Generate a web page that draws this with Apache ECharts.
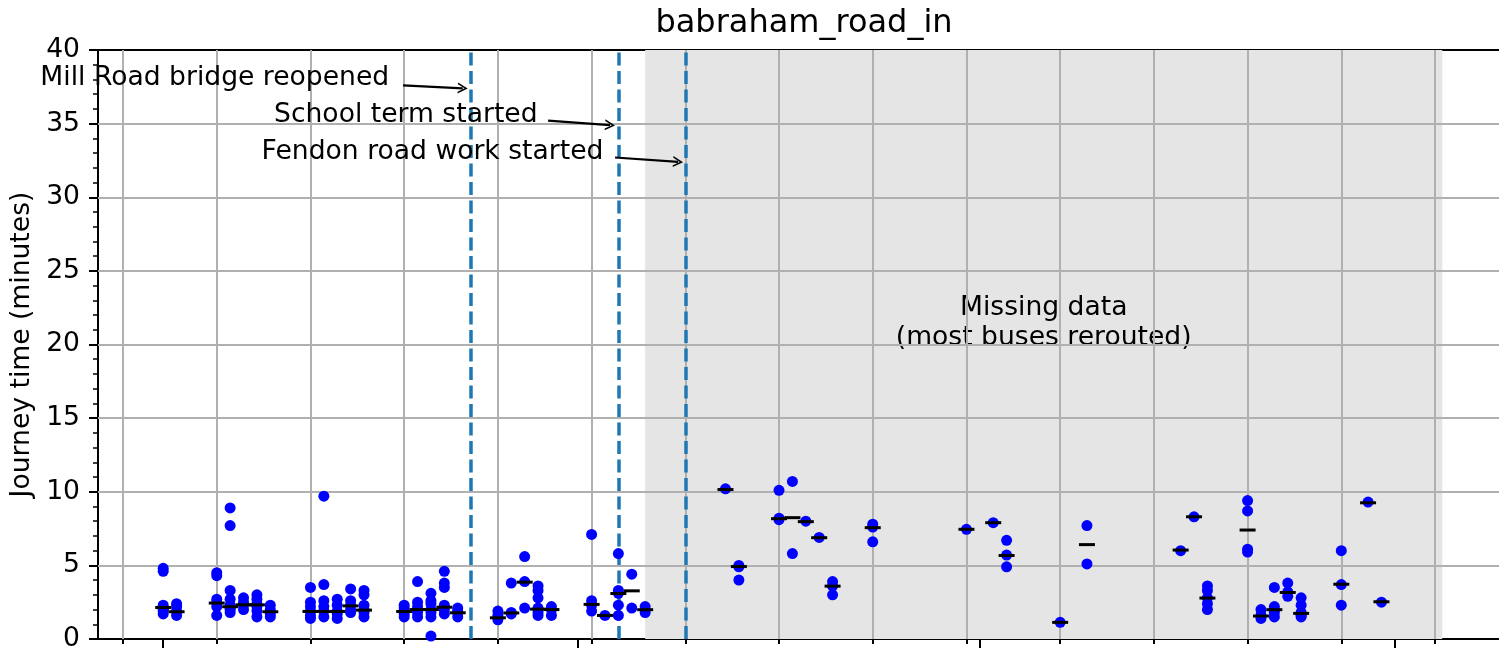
<!DOCTYPE html>
<html>
<head>
<meta charset="utf-8">
<title>babraham_road_in</title>
<script src="https://cdn.jsdelivr.net/npm/echarts@6/dist/echarts.min.js"></script>
<style>
  html, body { margin: 0; padding: 0; background: #fff; }
  #chart { width: 1499px; height: 654px; }
</style>
</head>
<body>
<div id="chart"></div>
<script>
// days with buses, the journey times seen that day (minutes) and the day's median
const days = [
  '2019-08-01', '2019-08-02', '2019-08-05', '2019-08-06', '2019-08-07', '2019-08-08', '2019-08-09',
  '2019-08-12', '2019-08-13', '2019-08-14', '2019-08-15', '2019-08-16',
  '2019-08-19', '2019-08-20', '2019-08-21', '2019-08-22', '2019-08-23',
  '2019-08-26', '2019-08-27', '2019-08-28', '2019-08-29', '2019-08-30',
  '2019-09-02', '2019-09-03', '2019-09-04', '2019-09-05', '2019-09-06',
  '2019-09-12', '2019-09-13', '2019-09-16', '2019-09-17', '2019-09-18', '2019-09-19', '2019-09-20',
  '2019-09-23', '2019-09-30', '2019-10-02', '2019-10-03', '2019-10-07', '2019-10-09',
  '2019-10-16', '2019-10-17', '2019-10-18', '2019-10-21', '2019-10-22', '2019-10-23', '2019-10-24', '2019-10-25',
  '2019-10-28', '2019-10-30', '2019-10-31'
];
const journeyTimes = [
  [4.8, 4.6, 2.3, 2.1, 2.0, 1.9, 1.7], [2.4, 2.2, 1.9, 1.6], [4.5, 4.3, 2.7, 2.5, 2.2, 1.6],
  [8.9, 7.7, 3.3, 2.7, 2.3, 2.1, 2.0, 1.8], [2.8, 2.5, 2.3, 2.0], [3.0, 2.7, 2.4, 2.2, 1.9, 1.5], [2.3, 2.0, 1.7, 1.5],
  [3.5, 2.5, 2.2, 1.9, 1.6, 1.4], [9.7, 3.7, 2.6, 2.2, 1.9, 1.5], [2.7, 2.3, 1.9, 1.7, 1.4],
  [3.4, 2.6, 2.3, 2.0, 1.8], [3.3, 3.0, 2.3, 2.0, 1.8, 1.5],
  [2.3, 2.1, 1.9, 1.7, 1.5], [3.9, 2.5, 2.2, 2.0, 1.8, 1.5], [3.1, 2.6, 2.4, 2.0, 1.8, 1.5, 0.2],
  [4.6, 3.8, 3.5, 2.3, 2.0, 1.7], [2.1, 1.9, 1.8, 1.5],
  [1.9, 1.6, 1.3], [3.8, 1.8, 1.7], [5.6, 3.9, 2.1], [3.6, 3.3, 2.8, 2.1, 2.0, 1.8, 1.6], [2.2, 2.0, 1.6],
  [7.1, 2.6, 2.3, 1.9], [1.6], [5.8, 3.3, 3.1, 2.3, 1.6], [4.4, 2.1], [2.2, 1.8],
  [10.2], [5.0, 4.9, 4.0], [10.1, 8.2, 8.1], [10.7, 5.8], [8.0], [6.9], [3.9, 3.6, 3.0],
  [7.8, 7.6, 6.6], [7.45], [7.9], [6.7, 5.7, 4.9], [1.13], [7.7, 5.1],
  [6.0], [8.3], [3.6, 3.3, 2.8, 2.4, 2.0], [9.4, 8.7, 6.1, 5.9], [2.0, 1.6, 1.4], [3.5, 2.2, 2.0, 1.8, 1.5],
  [3.8, 3.2, 2.9], [2.8, 2.3, 1.8, 1.7, 1.6, 1.5],
  [6.0, 3.7, 2.3], [9.3], [2.5]
];
const medians = [
  2.14, 1.85, 2.44, 2.19, 2.32, 2.32, 1.85,
  1.87, 1.87, 1.87, 2.25, 1.96,
  1.87, 2.0, 2.0, 2.16, 1.78,
  1.44, 1.77, 3.86, 2.03, 2.0,
  2.35, 1.6, 3.09, 3.27, 1.99,
  10.15, 4.92, 8.17, 8.24, 7.97, 6.88, 3.59,
  7.56, 7.45, 7.9, 5.67, 1.13, 6.41,
  6.04, 8.3, 2.78, 7.4, 1.56, 1.99, 3.16, 1.74,
  3.72, 9.25, 2.53
];

// weekly grid (Mondays) and month ticks
const mondays = [
  '2019-07-29', '2019-08-05', '2019-08-12', '2019-08-19', '2019-08-26', '2019-09-02', '2019-09-09',
  '2019-09-16', '2019-09-23', '2019-09-30', '2019-10-07', '2019-10-14', '2019-10-21', '2019-10-28', '2019-11-04'
];
const monthStarts = ['2019-08-01', '2019-09-01', '2019-10-01', '2019-11-01'];
const yTicks = [5, 10, 15, 20, 25, 30, 35];

const eventDates = ['2019-08-24', '2019-09-04', '2019-09-09'];
const eventNames = ['Mill Road bridge reopened', 'School term started', 'Fendon road work started'];

const missingFrom = '2019-09-06';
const missingTo = '2019-11-04 13:00';

const t = s => new Date(s.length === 10 ? s + 'T00:00' : s.replace(' ', 'T')).getTime();
const FONT = 'DejaVu Sans';
const FS = 26.6;
const xMin = t('2019-07-27 03:07');
const xMax = t('2019-11-08 18:43');

// annotation text anchors (right end of text) and arrows, in data coordinates
const noteAnchors = [['2019-08-17 22:00', 38.1], ['2019-08-29 00:00', 35.6], ['2019-09-02 22:00', 33.1]];
const arrowStarts = [['2019-08-18 22:00', 37.6], ['2019-08-29 18:00', 35.2], ['2019-09-03 18:00', 32.7]];
const arrowEnds = [['2019-08-23 09:00', 37.4], ['2019-09-03 09:00', 34.9], ['2019-09-08 11:00', 32.4]];

const chevron = 'path://M0,10 L5,0 L10,10 L8.4,10 L5,3.2 L1.6,10 Z';

const points = [];
days.forEach((d, i) => journeyTimes[i].forEach(v => points.push([t(d), v])));

const noteLabel = {
  show: true, position: 'left', distance: 0,
  fontFamily: FONT, fontSize: FS, color: '#000', opacity: 1
};

const chart = echarts.init(document.getElementById('chart'));
chart.setOption({
  animation: false,
  backgroundColor: '#fff',
  textStyle: { fontFamily: FONT },
  title: {
    text: 'babraham_road_in',
    left: 799,
    textAlign: 'center',
    top: 3,
    textStyle: { fontFamily: FONT, fontSize: 32, fontWeight: 'normal', color: '#000' }
  },
  grid: { left: 98, right: 0, top: 50, bottom: 15 },
  xAxis: [
    {
      type: 'time', min: xMin, max: xMax,
      axisLine: { show: true, lineStyle: { color: '#000', width: 2 } },
      axisTick: { show: true, customValues: mondays.map(t), length: 5, lineStyle: { color: '#000', width: 2 } },
      axisLabel: { show: false },
      splitLine: { show: false }
    },
    {
      type: 'time', min: xMin, max: xMax, position: 'bottom',
      axisLine: { show: false },
      axisTick: { show: true, customValues: monthStarts.map(t), length: 9, lineStyle: { color: '#000', width: 2 } },
      axisLabel: { show: false },
      splitLine: { show: false }
    },
    {
      type: 'time', min: xMin, max: xMax, position: 'top',
      axisLine: { show: true, lineStyle: { color: '#000', width: 2 } },
      axisTick: { show: false }, axisLabel: { show: false }, splitLine: { show: false }
    }
  ],
  yAxis: {
    type: 'value', min: 0, max: 40, interval: 5,
    name: 'Journey time (minutes)',
    nameLocation: 'middle',
    nameGap: 60,
    nameTextStyle: { fontFamily: FONT, fontSize: FS, color: '#000' },
    axisLine: { show: true, lineStyle: { color: '#000', width: 2 } },
    axisTick: { show: true, length: 9, lineStyle: { color: '#000', width: 2 } },
    minorTick: { show: true, splitNumber: 5, length: 5, lineStyle: { color: '#000', width: 1.5 } },
    axisLabel: { fontFamily: FONT, fontSize: FS, color: '#000', margin: 18 },
    splitLine: { show: false }
  },
  series: [
    {
      name: 'missing', type: 'line', data: [], z: 1, silent: true,
      markArea: {
        silent: true,
        itemStyle: { color: '#e5e5e5' },
        label: {
          show: true, position: 'inside', formatter: 'Missing data\n(most buses rerouted)',
          fontFamily: FONT, fontSize: FS, color: '#000', lineHeight: 30, offset: [0, -21]
        },
        data: [[{ xAxis: t(missingFrom) }, { xAxis: t(missingTo) }]]
      }
    },
    {
      name: 'grid', type: 'line', data: [], z: 2, silent: true,
      markLine: {
        silent: true, symbol: ['none', 'none'], label: { show: false },
        lineStyle: { color: '#b0b0b0', width: 2, type: 'solid' },
        data: mondays.map(d => ({ xAxis: t(d) })).concat(yTicks.map(v => ({ yAxis: v })))
      }
    },
    {
      name: 'events', type: 'line', data: [], z: 3, silent: true,
      markLine: {
        silent: true, symbol: ['none', 'none'], label: { show: false },
        lineStyle: { color: '#1f77b4', width: 3.5, type: [13, 5.5] },
        data: eventDates.map(d => ({ xAxis: t(d) }))
      }
    },
    {
      name: 'arrows', type: 'line', data: [], z: 4, silent: true,
      markLine: {
        silent: true, symbol: ['none', chevron], symbolSize: [11, 10], label: { show: false },
        lineStyle: { color: '#000', width: 2.2, type: 'solid' },
        data: arrowStarts.map((s, i) => [
          { coord: [t(s[0]), s[1]] },
          { coord: [t(arrowEnds[i][0]), arrowEnds[i][1]] }
        ])
      }
    },
    {
      name: 'notes', type: 'scatter', z: 5, silent: true,
      symbolSize: 1, itemStyle: { color: 'rgba(255,255,255,0)' },
      label: noteLabel,
      emphasis: { disabled: true },
      data: noteAnchors.map((a, i) => ({
        value: [t(a[0]), a[1]],
        label: Object.assign({}, noteLabel, { formatter: eventNames[i] })
      }))
    },
    {
      name: 'journey time', type: 'scatter', z: 6,
      symbol: 'circle', symbolSize: 11,
      itemStyle: { color: '#0000ff', opacity: 1 },
      data: points
    },
    {
      name: 'median', type: 'scatter', z: 7,
      symbol: 'rect', symbolSize: [16, 3],
      itemStyle: { color: '#000', opacity: 1 },
      data: days.map((d, i) => [t(d), medians[i]])
    }
  ]
});
</script>
</body>
</html>
